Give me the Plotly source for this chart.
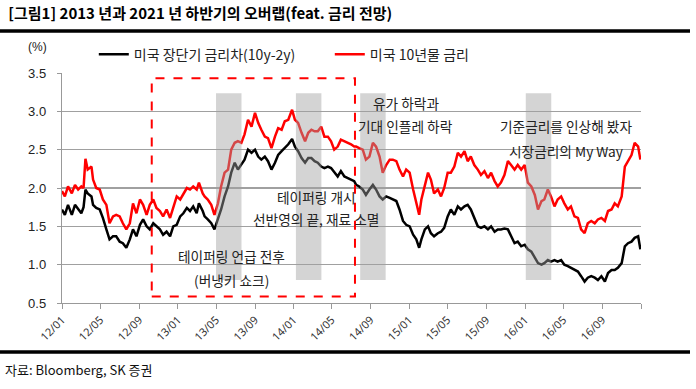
import base64
import struct
import zlib

import plotly.graph_objects as go

# ---------------- data ----------------
dates = [
    "2012-01-01", "2012-01-10", "2012-01-20", "2012-02-01", "2012-02-11", "2012-02-21", "2012-03-02", "2012-03-09", "2012-03-15", "2012-03-22",
    "2012-04-03", "2012-04-08", "2012-04-18", "2012-04-29", "2012-05-09", "2012-05-20", "2012-05-30", "2012-06-10", "2012-06-20", "2012-07-01",
    "2012-07-11", "2012-07-22", "2012-08-02", "2012-08-12", "2012-08-23", "2012-09-03", "2012-09-13", "2012-09-24", "2012-10-04", "2012-10-15",
    "2012-10-25", "2012-11-05", "2012-11-15", "2012-11-26", "2012-12-07", "2012-12-17", "2012-12-28", "2013-01-08", "2013-01-18", "2013-01-29",
    "2013-02-08", "2013-02-18", "2013-03-01", "2013-03-08", "2013-03-20",
    "2013-03-26", "2013-04-05", "2013-04-16", "2013-04-26", "2013-05-07", "2013-05-17", "2013-05-28", "2013-06-08", "2013-06-18", "2013-06-29",
    "2013-07-09", "2013-07-20", "2013-07-30", "2013-08-10", "2013-08-21", "2013-09-01", "2013-09-11", "2013-09-21", "2013-10-02", "2013-10-12",
    "2013-10-23", "2013-11-03", "2013-11-13", "2013-11-24", "2013-12-04", "2013-12-15", "2013-12-27", "2014-01-05", "2014-01-15", "2014-01-26",
    "2014-02-06", "2014-02-16", "2014-02-26", "2014-03-08", "2014-03-18", "2014-03-29", "2014-04-08", "2014-04-19", "2014-04-29", "2014-05-09",
    "2014-05-20", "2014-05-30", "2014-06-10", "2014-06-21", "2014-07-01", "2014-07-11",
    "2014-07-17", "2014-07-27", "2014-08-07", "2014-08-17", "2014-08-28", "2014-09-08", "2014-09-18", "2014-09-29", "2014-10-09", "2014-10-20",
    "2014-10-31", "2014-11-10", "2014-11-21", "2014-12-01", "2014-12-12", "2014-12-22", "2015-01-02", "2015-01-13", "2015-01-23", "2015-02-01",
    "2015-02-08", "2015-02-19", "2015-03-01", "2015-03-10", "2015-03-20", "2015-04-01", "2015-04-11", "2015-04-21", "2015-05-02", "2015-05-12",
    "2015-05-23", "2015-06-03", "2015-06-13", "2015-06-24", "2015-07-04", "2015-07-14", "2015-07-25", "2015-08-05", "2015-08-15", "2015-08-26",
    "2015-09-06", "2015-09-16", "2015-09-27", "2015-10-07",
    "2015-10-17", "2015-10-28", "2015-11-08", "2015-11-18", "2015-11-29", "2015-12-09", "2015-12-20", "2015-12-31", "2016-01-10", "2016-01-21",
    "2016-02-01", "2016-02-11", "2016-02-22", "2016-03-02", "2016-03-13", "2016-03-23", "2016-04-03", "2016-04-13", "2016-04-24", "2016-05-04",
    "2016-05-15", "2016-05-25", "2016-06-05", "2016-06-16", "2016-06-26", "2016-07-07", "2016-07-17", "2016-07-28", "2016-08-08", "2016-08-18",
    "2016-08-29", "2016-09-09", "2016-09-19", "2016-09-30", "2016-10-10", "2016-10-20", "2016-11-01", "2016-11-11", "2016-11-21", "2016-12-02",
    "2016-12-12", "2016-12-23", "2016-12-30",
]

spread_10y2y = [
    1.72, 1.65, 1.78, 1.65, 1.78, 1.72, 1.67, 1.75, 1.98, 1.93,
    1.89, 1.78, 1.74, 1.72, 1.61, 1.46, 1.33, 1.37, 1.37, 1.30,
    1.28, 1.22, 1.33, 1.46, 1.37, 1.52, 1.59, 1.50, 1.46, 1.54,
    1.50, 1.46, 1.39, 1.43, 1.37, 1.50, 1.52, 1.63, 1.67, 1.74,
    1.70, 1.76, 1.67, 1.80, 1.70,
    1.63, 1.59, 1.54, 1.46, 1.59, 1.72, 1.89, 2.02, 2.20, 2.33,
    2.24, 2.30, 2.37, 2.50, 2.46, 2.50, 2.41, 2.37, 2.41, 2.35,
    2.24, 2.33, 2.43, 2.48, 2.52, 2.57, 2.64, 2.54, 2.48, 2.39,
    2.33, 2.39, 2.39, 2.35, 2.33, 2.28, 2.26, 2.28, 2.26, 2.20,
    2.15, 2.22, 2.15, 2.13, 2.11, 2.09,
    2.04, 2.02, 1.98, 1.91, 1.98, 2.04, 1.98, 1.89, 1.85, 1.89,
    1.87, 1.85, 1.83, 1.72, 1.57, 1.52, 1.50, 1.39, 1.33, 1.22,
    1.33, 1.46, 1.50, 1.41, 1.37, 1.41, 1.43, 1.48, 1.63, 1.72,
    1.65, 1.76, 1.72, 1.76, 1.78, 1.72, 1.61, 1.50, 1.48, 1.50,
    1.46, 1.50, 1.43, 1.46,
    1.46, 1.47, 1.46, 1.37, 1.28, 1.30, 1.24, 1.26, 1.20, 1.17,
    1.09, 1.02, 1.00, 1.02, 1.06, 1.04, 1.06, 1.04, 1.06, 1.00,
    0.98, 0.96, 0.93, 0.91, 0.85, 0.78, 0.83, 0.85, 0.83, 0.80,
    0.85, 0.78, 0.89, 0.93, 0.93, 0.96, 1.02, 1.24, 1.28, 1.30,
    1.35, 1.37, 1.20,
]

ust_10y = [
    1.96, 1.89, 2.02, 1.93, 2.04, 1.98, 2.02, 2.00, 2.38, 2.24,
    2.28, 2.11, 2.00, 1.98, 1.85, 1.78, 1.54, 1.63, 1.65, 1.63,
    1.54, 1.46, 1.54, 1.80, 1.67, 1.85, 1.78, 1.65, 1.78, 1.85,
    1.74, 1.70, 1.63, 1.72, 1.61, 1.74, 1.89, 1.85, 1.93, 2.00,
    1.98, 2.02, 1.98, 2.07, 1.93,
    1.89, 1.85, 1.78, 1.65, 1.80, 2.02, 2.20, 2.24, 2.50, 2.59,
    2.61, 2.59, 2.70, 2.89, 2.80, 2.98, 2.85, 2.76, 2.67, 2.65,
    2.52, 2.67, 2.78, 2.76, 2.87, 2.89, 3.02, 2.89, 2.85, 2.72,
    2.61, 2.72, 2.76, 2.74, 2.74, 2.80, 2.67, 2.67, 2.61, 2.50,
    2.54, 2.63, 2.61, 2.59, 2.57, 2.54,
    2.54, 2.52, 2.50, 2.37, 2.41, 2.59, 2.54, 2.41, 2.20, 2.30,
    2.37, 2.37, 2.35, 2.24, 2.15, 2.24, 2.20, 1.98, 1.80, 1.65,
    1.85, 2.02, 2.20, 2.11, 1.93, 1.98, 1.89, 2.00, 2.20, 2.20,
    2.28, 2.46, 2.41, 2.48, 2.35, 2.41, 2.30, 2.24, 2.17, 2.22,
    2.13, 2.20, 2.09, 2.02,
    2.07, 2.17, 2.35, 2.30, 2.24, 2.30, 2.24, 2.30, 2.07, 2.02,
    1.91, 1.72, 1.83, 1.85, 1.98, 1.89, 1.76, 1.85, 1.89, 1.80,
    1.72, 1.76, 1.63, 1.61, 1.46, 1.41, 1.54, 1.57, 1.54, 1.59,
    1.61, 1.57, 1.70, 1.72, 1.80, 1.76, 1.89, 2.28, 2.35, 2.43,
    2.59, 2.54, 2.37,
]

tick_dates = ["2012-01-01", "2012-05-01", "2012-09-01", "2013-01-01", "2013-05-01", "2013-09-01",
              "2014-01-01", "2014-05-01", "2014-09-01", "2015-01-01", "2015-05-01", "2015-09-01",
              "2016-01-01", "2016-05-01", "2016-09-01", "2017-01-01"]
tick_labels = ["12/01", "12/05", "12/09", "13/01", "13/05", "13/09", "14/01", "14/05", "14/09",
               "15/01", "15/05", "15/09", "16/01", "16/05", "16/09", ""]

series_names = ["미국 장단기 금리차(10y-2y)", "미국 10년물 금리"]

KR = "Noto Sans CJK KR, Malgun Gothic, sans-serif"
W, H = 696, 389


def black_png_uri():
    """1x1 opaque black PNG as a data URI (used to paint the frame rules)."""
    def chunk(tag, data):
        return struct.pack(">I", len(data)) + tag + data + struct.pack(">I", zlib.crc32(tag + data) & 0xffffffff)
    ihdr = struct.pack(">IIBBBBB", 1, 1, 8, 2, 0, 0, 0)
    idat = zlib.compress(b"\x00\x00\x00\x00")
    png = b"\x89PNG\r\n\x1a\n" + chunk(b"IHDR", ihdr) + chunk(b"IDAT", idat) + chunk(b"IEND", b"")
    return "data:image/png;base64," + base64.b64encode(png).decode("ascii")


fig = go.Figure()
fig.add_trace(go.Scatter(x=dates, y=spread_10y2y, mode="lines", name=series_names[0],
                         line=dict(color="#000000", width=2.5), xaxis="x", yaxis="y"))
fig.add_trace(go.Scatter(x=dates, y=ust_10y, mode="lines", name=series_names[1],
                         line=dict(color="#ff0000", width=2.5), xaxis="x", yaxis="y"))

# decorative black rules of the report frame, on a hidden full-page overlay axis (pixel units)
for ry in (31, 352):
    fig.add_trace(go.Scatter(x=[0, 690], y=[ry, ry], mode="lines", line=dict(color="#000000", width=3),
                             showlegend=False, hoverinfo="skip", xaxis="x2", yaxis="y2", cliponaxis=False))

shapes = []
# grey highlight bands (relative to the plot area)
for x0, x1 in [(0.266, 0.310), (0.404, 0.448), (0.515, 0.559), (0.801, 0.845)]:
    shapes.append(dict(type="rect", xref="x domain", yref="y domain", x0=x0, x1=x1, y0=0.100, y1=0.912,
                       fillcolor="rgb(160,160,160)", opacity=0.45, line=dict(width=0), layer="above"))
# red dashed box
shapes.append(dict(type="rect", xref="x domain", yref="y domain", x0=0.155, x1=0.506, y0=0.028, y1=0.977,
                   line=dict(color="#ff0000", width=2, dash="dash"), fillcolor="rgba(0,0,0,0)", layer="above"))

ann_font = dict(family=KR, size=13.7, color="#222222")
annotations = [
    dict(text="테이퍼링 언급 전후", x=0.293, y=0.204),
    dict(text="(버냉키 쇼크)", x=0.293, y=0.100),
    dict(text="테이퍼링 개시", x=0.439, y=0.460),
    dict(text="선반영의 끝, 재료 소멸", x=0.439, y=0.365),
    dict(text="유가 하락과", x=0.594, y=0.868),
    dict(text="기대 인플레 하락", x=0.594, y=0.769),
    dict(text="기준금리를 인상해 봤자", x=0.870, y=0.769),
    dict(text="시장금리의 My Way", x=0.870, y=0.660),
]
for a in annotations:
    a.update(xref="x domain", yref="y domain", xanchor="center", yanchor="middle", showarrow=False, font=ann_font)

annotations.append(dict(text="(%)", xref="x domain", yref="y domain", x=-0.042, y=1.113, xanchor="center",
                        yanchor="middle", showarrow=False, font=dict(family="Liberation Sans, Arial", size=12, color="#222")))
annotations.append(dict(text="자료: Bloomberg, SK 증권", xref="x domain", yref="y domain", x=-0.102, y=-0.291,
                        xanchor="left", yanchor="middle", showarrow=False,
                        font=dict(family=KR, size=13, color="#111")))

# frame rules also painted as stretched black images (paper = whole page, margins are zero)
rule_img = black_png_uri()
images = [dict(source=rule_img, xref="paper", yref="paper", x=0, y=1 - 29.5 / H, sizex=690 / W, sizey=3 / H,
               xanchor="left", yanchor="top", sizing="stretch", layer="above"),
          dict(source=rule_img, xref="paper", yref="paper", x=0, y=1 - 350.5 / H, sizex=690 / W, sizey=3 / H,
               xanchor="left", yanchor="top", sizing="stretch", layer="above")]

fig.update_layout(
    width=W, height=H, autosize=False,
    margin=dict(l=0, r=0, t=0, b=0, pad=0),
    paper_bgcolor="white", plot_bgcolor="rgba(0,0,0,0)",
    title=dict(text="<b>[그림1] 2013 년과 2021 년 하반기의 오버랩(feat. 금리 전망)</b>",
               x=0.012, xanchor="left", xref="container", y=0.965, yanchor="middle", yref="container",
               font=dict(family=KR, size=15, color="#000")),
    showlegend=True,
    legend=dict(orientation="h", x=93.8 / W, xanchor="left", y=1 - 54.7 / H, yanchor="middle",
                font=dict(family=KR, size=14, color="#222"), entrywidth=191,
                bgcolor="rgba(0,0,0,0)", itemclick=False),
    shapes=shapes,
    annotations=annotations,
    images=images,
    xaxis=dict(domain=[62 / W, 641 / W], anchor="y", automargin=False,
               type="date", range=["2012-01-01", "2017-01-01"], tickvals=tick_dates, ticktext=tick_labels,
               tickangle=-45, showgrid=False, showline=True, linecolor="#999", linewidth=1.2,
               ticks="outside", ticklen=5, tickcolor="#999", zeroline=False,
               tickfont=dict(family="Noto Sans, sans-serif", size=11, color="#333")),
    yaxis=dict(domain=[1 - 303 / H, 1 - 73 / H], anchor="x", automargin=False,
               range=[0.5, 3.5], dtick=0.5, tick0=0.5, tickformat=".1f", showgrid=True, gridcolor="#a0a0a0",
               gridwidth=1.2, showline=True, linecolor="#999", linewidth=1.2, ticks="outside", ticklen=4,
               tickcolor="#999", zeroline=False, ticklabelstandoff=8,
               tickfont=dict(family="Liberation Sans, Arial", size=13, color="#222")),
    xaxis2=dict(domain=[0, 1], anchor="y2", range=[0, W], visible=False, automargin=False, fixedrange=True),
    yaxis2=dict(domain=[0, 1], anchor="x2", range=[H, 0], visible=False, automargin=False, fixedrange=True),
)

fig.write_html("out.html", config={"displayModeBar": False, "staticPlot": True},
               post_script="document.body.style.margin='0';")
